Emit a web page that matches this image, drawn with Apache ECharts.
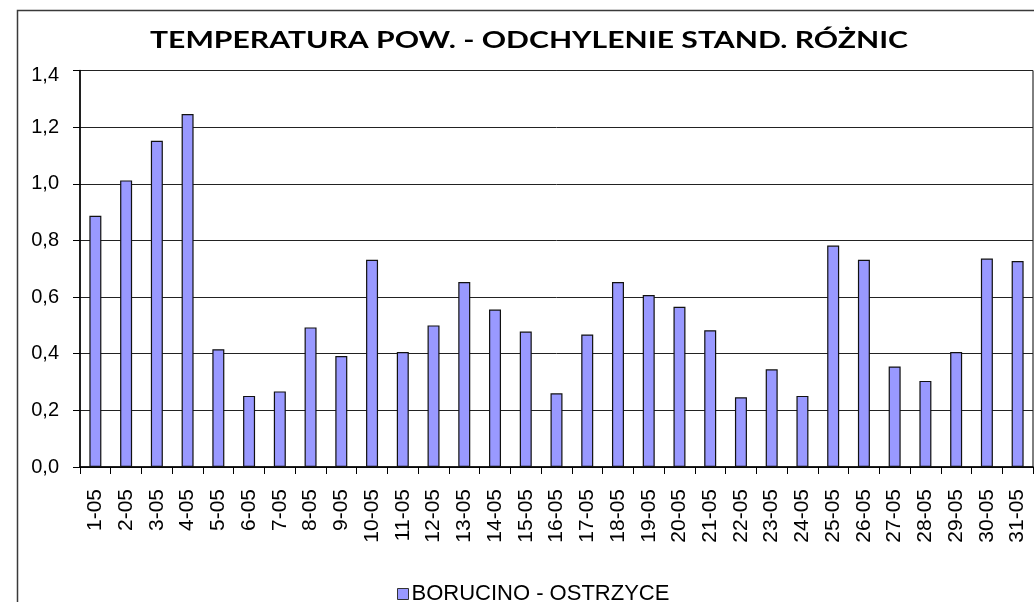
<!DOCTYPE html>
<html>
<head>
<meta charset="utf-8">
<script src="https://cdn.jsdelivr.net/npm/echarts@6/dist/echarts.min.js"></script>
<style>
html,body{margin:0;padding:0;background:#fff;}
#c{width:1034px;height:602px;}
</style>
</head>
<body>
<div id="c"></div>
<script>
const titleText = 'TEMPERATURA POW. - ODCHYLENIE STAND. RÓŻNIC';
const seriesName = 'BORUCINO - OSTRZYCE';
const categories = ['1-05','2-05','3-05','4-05','5-05','6-05','7-05','8-05','9-05','10-05',
  '11-05','12-05','13-05','14-05','15-05','16-05','17-05','18-05','19-05','20-05',
  '21-05','22-05','23-05','24-05','25-05','26-05','27-05','28-05','29-05','30-05','31-05'];
const values = [0.887,1.012,1.152,1.246,0.416,0.251,0.267,0.493,0.392,0.732,
  0.406,0.500,0.653,0.556,0.478,0.260,0.468,0.653,0.607,0.566,
  0.483,0.246,0.345,0.251,0.782,0.732,0.355,0.304,0.406,0.736,0.727];
const yMin = 0, yMax = 1.4, yStep = 0.2;

// title is stretched horizontally to the reference's width
const titleFont = 'bold 22px Lato';
const mctx = document.createElement('canvas').getContext('2d');
mctx.font = titleFont;
const titleScaleX = 758 / mctx.measureText(titleText).width;

const chart = echarts.init(document.getElementById('c'), null, {renderer:'canvas'});
chart.setOption({
  animation:false,
  backgroundColor:'#ffffff',
  graphic:[{
    type:'rect', left:15, top:8, z:-10,
    shape:{x:0,y:0,width:1100,height:700},
    style:{fill:'none', stroke:'#3a3a3a', lineWidth:1.5}
  },{
    type:'text', x:529, y:41, scaleX:titleScaleX, scaleY:1,
    style:{text:titleText, x:0, y:0, align:'center', verticalAlign:'middle',
      font:titleFont, fill:'#000'}
  }],
  legend:{
    data:[seriesName], left:392, top:578, itemWidth:11, itemHeight:11, itemGap:8,
    icon:'rect',
    textStyle:{fontFamily:'Liberation Sans, Arial', fontSize:22, color:'#000', padding:[0,0,0,-2]},
    itemStyle:{borderColor:'#333', borderWidth:1}
  },
  grid:{left:80, right:1, top:70.5, bottom:135, show:true, borderColor:'#000', borderWidth:1, backgroundColor:'transparent'},
  xAxis:{
    type:'category', data:categories, boundaryGap:true,
    axisLine:{lineStyle:{color:'#000', width:1.5}},
    axisTick:{show:true, alignWithLabel:false, length:7, lineStyle:{color:'#000'}},
    axisLabel:{rotate:90, margin:22, interval:0, fontFamily:'Liberation Sans, Arial', fontSize:21, color:'#000'}
  },
  yAxis:{
    type:'value', min:yMin, max:yMax, interval:yStep,
    axisLine:{show:true, lineStyle:{color:'#000', width:1.5}},
    axisTick:{show:true, length:7, lineStyle:{color:'#000'}},
    splitLine:{show:true, lineStyle:{color:'#222', width:1}},
    axisLabel:{margin:21, fontFamily:'Liberation Sans, Arial', fontSize:20, color:'#000',
      formatter:function(v){
        const s = v.toFixed(1).replace('.',',');
        return Math.abs(v - yMax) < 1e-9 ? '{top|' + s + '}' : s;
      },
      rich:{top:{fontFamily:'Liberation Sans, Arial', fontSize:20, color:'#000', padding:[9,0,0,0]}}
    }
  },
  series:[{
    name:seriesName, type:'bar', data:values, barCategoryGap:'61%',
    itemStyle:{color:'#9999ff', borderColor:'#111', borderWidth:1.2}
  }]
});
</script>
</body>
</html>
